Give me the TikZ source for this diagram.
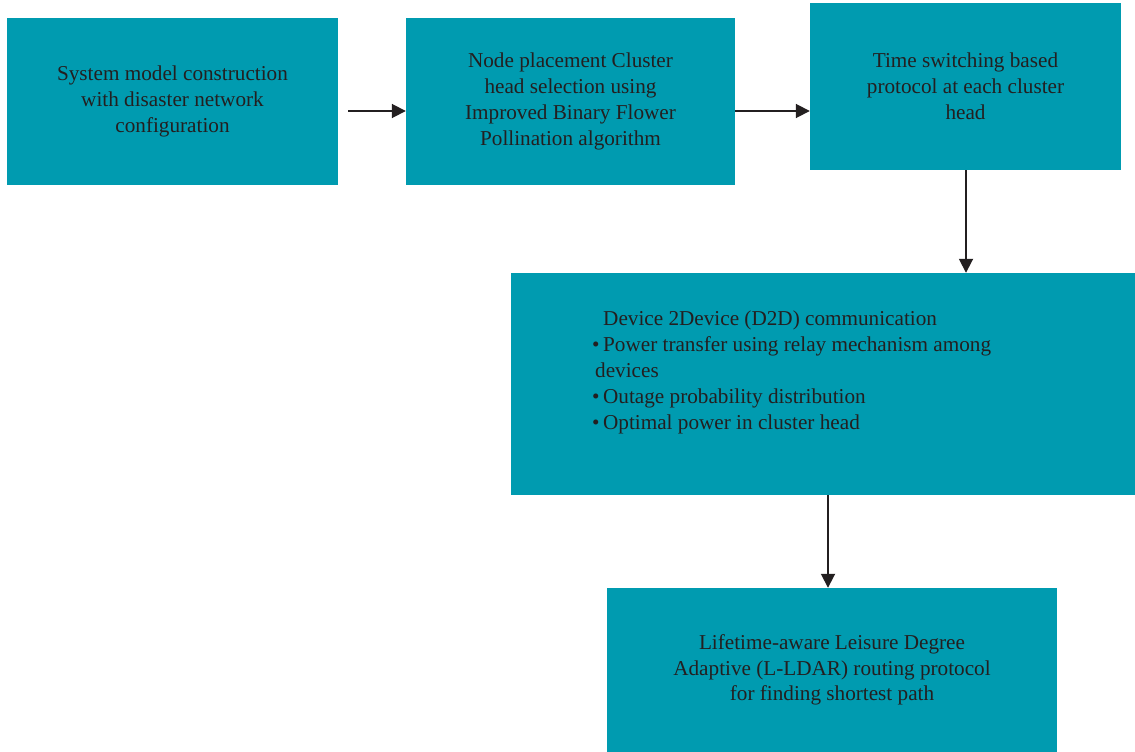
\documentclass[tikz,border=0pt]{standalone}
\usepackage{fontspec}
\setmainfont{Liberation Serif}
\usetikzlibrary{arrows.meta}
\definecolor{boxteal}{RGB}{0,155,176}
\definecolor{txt}{RGB}{35,31,32}
\begin{document}
\begin{tikzpicture}[x=1pt,y=-1pt,
  box/.style={fill=boxteal,draw=none,inner sep=0pt,text=txt,align=center,
    font=\fontsize{21.2}{25.8}\selectfont},
  arr/.style={draw=txt,line width=1.8pt,-{Triangle[length=14pt,width=14pt]}}]
\useasboundingbox (0,0) rectangle (1135,752);
\node[box,minimum width=331pt,minimum height=167pt] (b1) at (172.5,101.5)
  {System model construction\\with disaster network\\configuration};
\node[box,minimum width=329pt,minimum height=167pt] (b2) at (570.5,101.5)
  {Node placement Cluster\\head selection using\\Improved Binary Flower\\Pollination algorithm};
\node[box,minimum width=311pt,minimum height=167pt] (b3) at (965.5,86.5)
  {Time switching based\\protocol at each cluster\\head};
\node[box,minimum width=624pt,minimum height=222pt] (b4) at (823,384) {};
\node[text=txt,align=left,anchor=north west,inner sep=0pt,
  font=\fontsize{21.2}{26}\selectfont] (t4) at (592,311)
  {\hspace*{11pt}Device 2Device (D2D) communication\\
   \textbullet\,Power transfer using relay mechanism among\\
   \hspace*{3pt}devices\\
   \textbullet\,Outage probability distribution\\
   \textbullet\,Optimal power in cluster head};
\node[box,minimum width=450pt,minimum height=164pt] (b5) at (832,670)
  {Lifetime-aware Leisure Degree\\Adaptive (L-LDAR) routing protocol\\for finding shortest path};
\coordinate (s1) at (348,111);
\draw[arr] (s1) -- (b2.west |- s1);
\coordinate (s2) at (b2.east |- s1);
\draw[arr] (s2) -- (b3.west |- s1);
\coordinate (s3) at (966,0);
\draw[arr] (b3.south -| s3) -- (b4.north -| s3);
\coordinate (s4) at (828,0);
\draw[arr] (b4.south -| s4) -- (b5.north -| s4);
\end{tikzpicture}
\end{document}
